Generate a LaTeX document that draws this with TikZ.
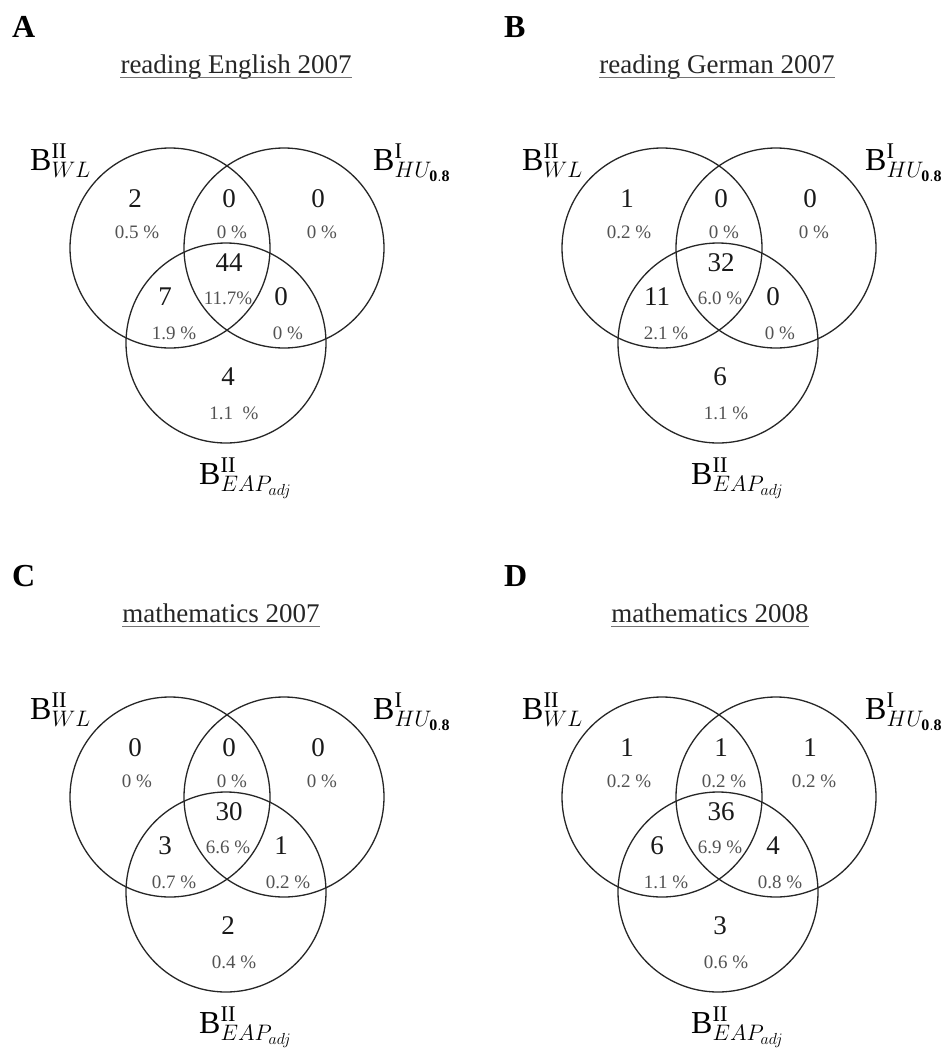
\RequirePackage{fix-cm}
\documentclass[tikz,border=0pt]{standalone}
\usepackage{fontspec}
\setmainfont{Liberation Serif}
\usepackage{tikz}
\usetikzlibrary{positioning}
\tikzset{
  set/.style   ={circle,draw=black!85,line width=1.3pt,minimum size=200pt,inner sep=0pt},
  num/.style   ={font=\fontsize{27}{30}\selectfont,text=black!90,inner sep=0pt},
  pct/.style   ={font=\fontsize{19}{22}\selectfont,text=black!68,inner sep=0pt},
  ttl/.style   ={font=\fontsize{27}{30}\selectfont,text=black!85,inner sep=0pt,anchor=base},
  uline/.style ={black!55,line width=1.4pt},
  letter/.style={font=\fontsize{32}{36}\selectfont\bfseries,inner sep=0pt,anchor=base west},
  setlbl/.style={font=\fontsize{32}{36}\selectfont,inner sep=0pt,anchor=base west},
}
\begin{document}
\begin{tikzpicture}[x=1pt,y=-1pt]
\useasboundingbox (0,0) rectangle (946,1050);
% one panel per line: name/shift/title/counts and shares
\foreach \pn/\dx/\dy/\tx/\ttl/\na/\pa/\nb/\pb/\nc/\pc/\nd/\pd/\ne/\pe/\nf/\pf/\ng/\pg in {
  A/0/0/236/{reading English 2007}/2/{0.5 \%}/0/{0 \%}/0/{0 \%}/44/{11.7\%}/7/{1.9 \%}/0/{0 \%}/4/{1.1\ \ \%},
  B/492/0/225/{reading German 2007}/1/{0.2 \%}/0/{0 \%}/0/{0 \%}/32/{6.0 \%}/11/{2.1 \%}/0/{0 \%}/6/{1.1 \%},
  C/0/549/221/{mathematics 2007}/0/{0 \%}/0/{0 \%}/0/{0 \%}/30/{6.6 \%}/3/{0.7 \%}/1/{0.2 \%}/2/{0.4 \%},
  D/492/549/218/{mathematics 2008}/1/{0.2 \%}/1/{0.2 \%}/1/{0.2 \%}/36/{6.9 \%}/6/{1.1 \%}/4/{0.8 \%}/3/{0.6 \%}}
{
\begin{scope}[shift={(\dx,\dy)}]
  \node[letter] (lt\pn) at (12,37) {\pn};
  \node[ttl] (tt\pn) at (\tx,73) {\ttl};
  \draw[uline] ([yshift=-4.5pt]tt\pn.base west) -- ([yshift=-4.5pt]tt\pn.base east);
  % the three sets
  \node[set] (wl\pn)  at (170,248) {};
  \node[set] (hu\pn)  at (284,248) {};
  \node[set] (eap\pn) at (226,343) {};
  \node[setlbl] (lwl\pn)  at (30,170)  {$\mathrm{B}^{\mathrm{II}}_{WL}$};
  \node[setlbl] (lhu\pn)  at (373,170) {$\mathrm{B}^{\mathrm{I}}_{HU_{\mathbf{0.8}}}$};
  \node[setlbl] (leap\pn) at (199,484) {$\mathrm{B}^{\mathrm{II}}_{EAP_{adj}}$};
  % regions
  \node[num] (n1\pn) at (135,199) {\na};  \node[pct] (p1\pn) at (137,232) {\pa};
  \node[num] (n2\pn) at (229,199) {\nb};  \node[pct] (p2\pn) at (232,232) {\pb};
  \node[num] (n3\pn) at (318,199) {\nc};  \node[pct] (p3\pn) at (322,232) {\pc};
  \node[num] (n4\pn) at (229,263) {\nd};  \node[pct] (p4\pn) at (228,298) {\pd};
  \node[num] (n5\pn) at (165,297) {\ne};  \node[pct] (p5\pn) at (174,333) {\pe};
  \node[num] (n6\pn) at (281,297) {\nf};  \node[pct] (p6\pn) at (288,333) {\pf};
  \node[num] (n7\pn) at (228,377) {\ng};  \node[pct] (p7\pn) at (234,413) {\pg};
\end{scope}
}
\end{tikzpicture}
\end{document}
